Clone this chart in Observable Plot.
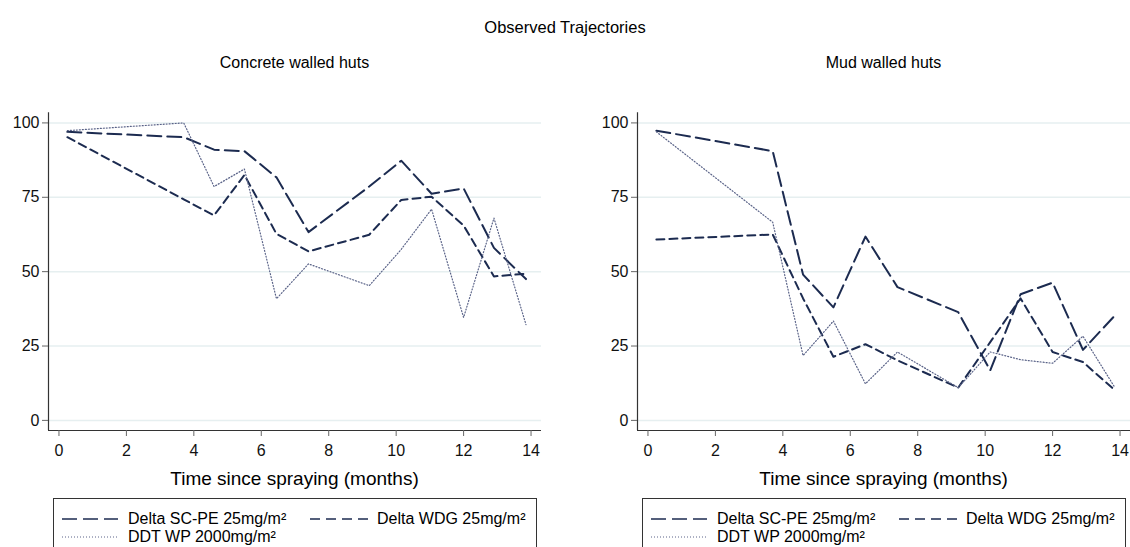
<!DOCTYPE html>
<html><head><meta charset="utf-8">
<script src="https://cdn.jsdelivr.net/npm/d3@7"></script>
<script src="https://cdn.jsdelivr.net/npm/@observablehq/plot@0.6"></script>
<style>
body{margin:0;background:#fff;font-family:"Liberation Sans",Arial,sans-serif;}
#wrap{position:relative;width:1130px;height:547px;overflow:hidden;background:#fff;}
.t{position:absolute;white-space:nowrap;color:#000;transform:translate(-50%,-50%);line-height:1;}
.plotbox{position:absolute;}
.legend{position:absolute;border:1px solid #333;box-sizing:border-box;background:#fff;}
.legend .lt{position:absolute;white-space:nowrap;font-size:16px;line-height:1;transform:translateY(-50%);color:#000;}
.legend svg{position:absolute;overflow:visible;}
</style></head><body><div id="wrap"></div>
<script>
// ---- data ----
const times = [0.25, 3.7, 4.6, 5.5, 6.45, 7.4, 9.2, 10.15, 11.05, 12.0, 12.9, 13.85];
const seriesNames = ["Delta SC-PE 25mg/m²", "Delta WDG 25mg/m²", "DDT WP 2000mg/m²"];
const concreteSCPE = [97, 95.2, 91, 90.5, 81.7, 63.3, 78.6, 87.3, 76.2, 78, 58, 47.5];
const concreteWDG  = [95.2, 74.3, 68.9, 82.5, 62.7, 56.8, 62.4, 74.1, 75.2, 65.5, 48.4, 49.3];
const concreteDDT  = [97.4, 100, 78.6, 84.5, 40.9, 52.6, 45.3, 57.5, 71, 34.6, 68, 32.2];
const mudSCPE = [97.4, 90.5, 49, 38, 61.8, 44.8, 36.4, 16.8, 42.4, 46.3, 23.7, 35.3];
const mudWDG  = [60.8, 62.5, 41, 21.4, 25.6, 20.2, 11, 26.3, 41, 23, 19.6, 10.1];
const mudDDT  = [97, 66.6, 21.8, 33.4, 12.3, 23, 11, 23, 20.4, 19.2, 28.3, 11];
const xTicks = [0, 2, 4, 6, 8, 10, 12, 14];
const yTicks = [0, 25, 50, 75, 100];
const xDomain = [-0.31, 14.31];
const yDomain = [-3.4, 103.4];
const mainTitle = "Observed Trajectories";
const panelTitles = ["Concrete walled huts", "Mud walled huts"];
const xLabel = "Time since spraying (months)";

const navy = "#1c2b50";
const styles = [
  {stroke: navy, strokeWidth: 2, strokeDasharray: "14,6"},
  {stroke: navy, strokeWidth: 2, strokeDasharray: "8,5"},
  {stroke: "#5a6388", strokeWidth: 1.2, strokeDasharray: "1,2"}
];

const wrap = document.getElementById("wrap");
function addText(txt, x, y, size) {
  const d = document.createElement("div");
  d.className = "t"; d.textContent = txt;
  d.style.left = x + "px"; d.style.top = y + "px"; d.style.fontSize = size + "px";
  wrap.appendChild(d);
}
addText(mainTitle, 565, 27, 16.5);

function panel(left, mL, mR, title, vals) {
  const W = 565, H = 380, top = 100;
  const rows = vals.map(arr => times.map((t, i) => ({t, v: arr[i]})));
  const chart = Plot.plot({
    width: W, height: H, marginLeft: mL, marginRight: mR, marginTop: 12.3, marginBottom: 50,
    x: {domain: xDomain}, y: {domain: yDomain},
    style: {fontSize: "16px", fontFamily: '"Liberation Sans", Arial, sans-serif', background: "transparent", overflow: "visible"},
    marks: [
      Plot.ruleY(yTicks, {stroke: "#e6eff0", strokeWidth: 1.5}),
      ...rows.map((r, k) => Plot.line(r, {x: "t", y: "v", ...styles[k]})),
      Plot.ruleX([xDomain[0]], {y1: yDomain[0], y2: yDomain[1], stroke: "#333", strokeWidth: 1.2}),
      Plot.ruleY([yDomain[0]], {stroke: "#333", strokeWidth: 1.2}),
      Plot.axisX({ticks: xTicks, tickSize: 6, tickPadding: 8, stroke: "#666", fill: "#111", fontSize: 16, label: null}),
      Plot.axisY({ticks: yTicks, tickSize: 6, tickPadding: 3, stroke: "#666", fill: "#111", fontSize: 16, label: null})
    ]
  });
  const box = document.createElement("div");
  box.className = "plotbox"; box.style.left = left + "px"; box.style.top = top + "px";
  box.appendChild(chart); wrap.appendChild(box);
  const cx = left + mL + (W - mL - mR) / 2;
  addText(title, cx, 63, 16);
  addText(xLabel, cx, 478, 19);
  // legend
  const lg = document.createElement("div");
  lg.className = "legend";
  const lgLeft = left + mL + 5, lgRight = left + W - mR - 4;
  lg.style.left = lgLeft + "px"; lg.style.top = "498px";
  lg.style.width = (lgRight - lgLeft) + "px"; lg.style.height = "70px";
  const items = [
    {x0: 8, x1: 64, tx: 74, y: 20},
    {x0: 256, x1: 318, tx: 323, y: 20},
    {x0: 8, x1: 64, tx: 74, y: 38}
  ];
  items.forEach((it, k) => {
    const ns = "http://www.w3.org/2000/svg";
    const s = document.createElementNS(ns, "svg");
    s.setAttribute("width", it.x1 - it.x0); s.setAttribute("height", 4);
    s.style.left = it.x0 + "px"; s.style.top = (it.y - 2) + "px";
    const ln = document.createElementNS(ns, "line");
    ln.setAttribute("x1", 0); ln.setAttribute("x2", it.x1 - it.x0);
    ln.setAttribute("y1", 2); ln.setAttribute("y2", 2);
    ln.setAttribute("stroke", styles[k].stroke);
    ln.setAttribute("stroke-width", k === 2 ? 1 : 1.6);
    ln.setAttribute("stroke-dasharray", k === 0 ? "15,6" : k === 1 ? "10,6" : "1,2");
    s.appendChild(ln); lg.appendChild(s);
    const tx = document.createElement("div");
    tx.className = "lt"; tx.textContent = seriesNames[k];
    tx.style.left = it.tx + "px"; tx.style.top = it.y + "px";
    lg.appendChild(tx);
  });
  wrap.appendChild(lg);
}
panel(0, 48, 24, panelTitles[0], [concreteSCPE, concreteWDG, concreteDDT]);
panel(565, 72, 0, panelTitles[1], [mudSCPE, mudWDG, mudDDT]);
</script></body></html>
